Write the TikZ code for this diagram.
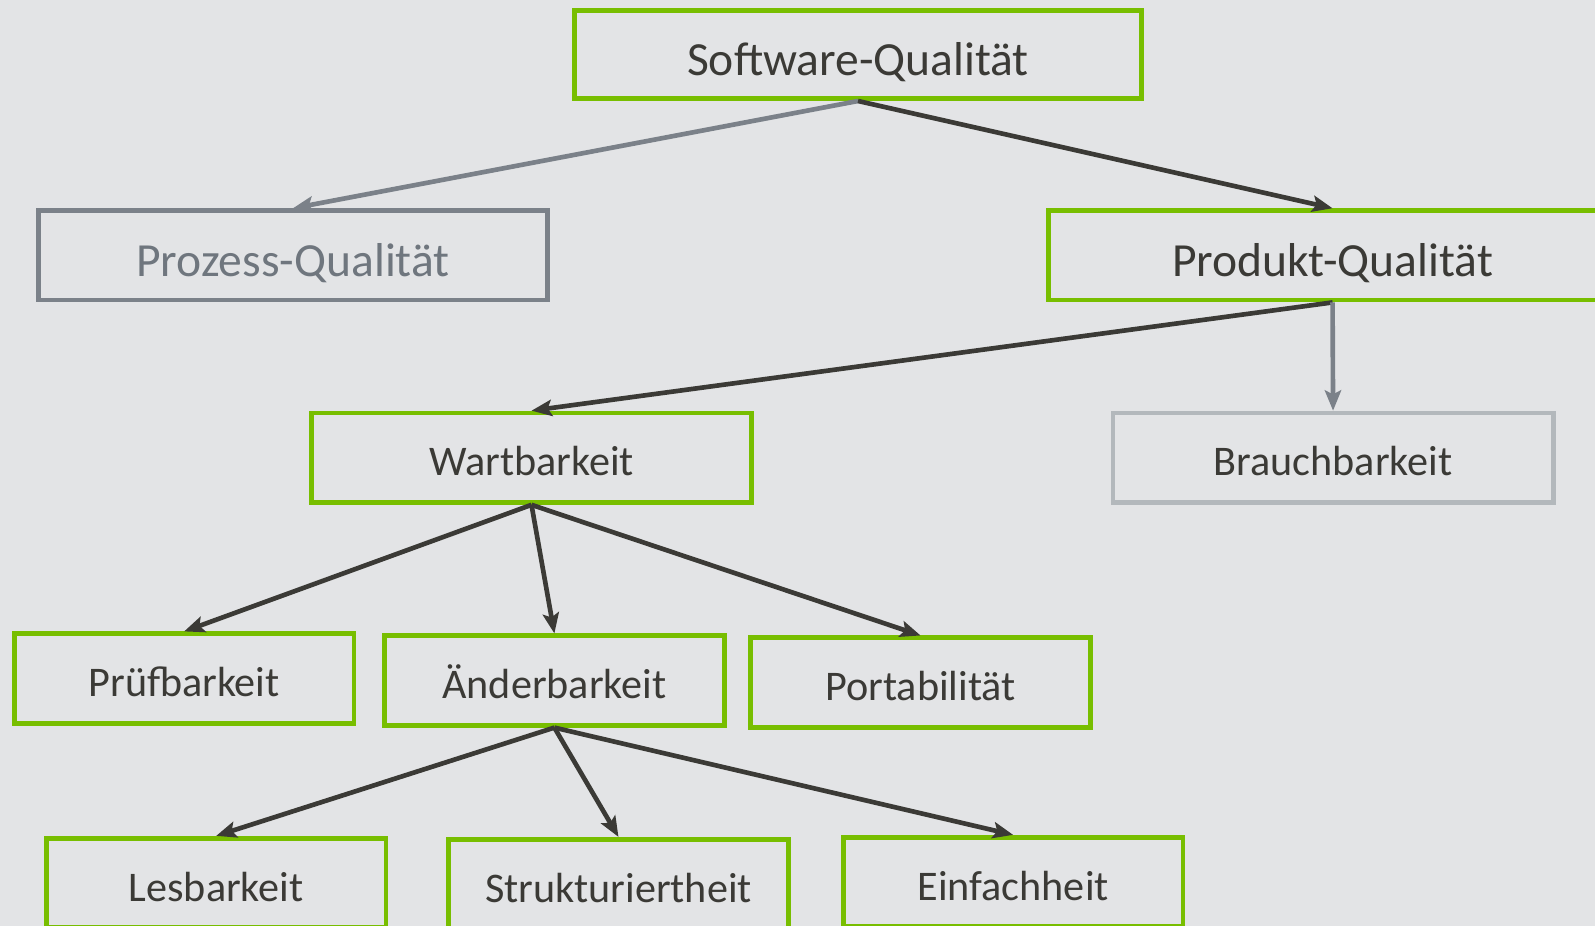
\documentclass[tikz,border=0pt]{standalone}
\usepackage{fontspec}
\setmainfont{Carlito}
\usepackage{tikz}
\usetikzlibrary{arrows.meta}
\definecolor{bgGrey}{HTML}{E3E4E6}
\definecolor{qGreen}{HTML}{78BE00}
\definecolor{darkLine}{HTML}{3B3A36}
\definecolor{greyLine}{HTML}{7B8189}
\definecolor{lightLine}{HTML}{B3B8BC}
\definecolor{greyText}{HTML}{6F767E}
\tikzstyle{box} = [draw=qGreen, line width=1.3pt, minimum width=33.4mm, minimum height=8.8mm, inner sep=0pt, text=darkLine, text height=10.2pt, text depth=0pt, font=\fontsize{11.8}{14}\selectfont]
\tikzstyle{bigbox} = [box, text height=11.8pt, font=\fontsize{13.3}{16}\selectfont]
\tikzstyle{link} = [line width=1.3pt, draw=darkLine, -{Stealth[length=2mm,width=1.6mm,inset=0.4mm]}]

\begin{document}
\begin{tikzpicture}[x=0.1mm,y=-0.1mm]
			\fill[bgGrey] (0,0) rectangle (1568,910);
			\clip (0,0) rectangle (1568,910);
			% top levels
			\node[bigbox, minimum width=55.7mm, minimum height=8.7mm] (soft) at (843.5,53.5) {Software-Qualität};
			\node[bigbox, draw=greyLine, text=greyText, minimum width=50mm] (prozess) at (288,251) {Prozess-Qualität};
			\node[bigbox, minimum width=55.8mm] (produkt) at (1310,251) {Produkt-Qualität};
			\node[box, minimum width=43.3mm] (wart) at (522.5,450) {Wartbarkeit};
			\node[box, draw=lightLine, minimum width=43.3mm] (brauch) at (1310.5,450) {Brauchbarkeit};
			% Wartbarkeit
			\node[box] (pruef) at (181,667) {Prüfbarkeit};
			\node[box] (aender) at (545,669) {Änderbarkeit};
			\node[box] (porta) at (905,671) {Portabilität};
			% Änderbarkeit
			\node[box] (les) at (212.5,868) {Lesbarkeit};
			\node[box] (struk) at (608,869) {Strukturiertheit};
			\node[box] (einf) at (996,867) {Einfachheit};
			\draw[link, draw=greyLine] (soft.south) -- (prozess.north);
			\draw[link] (soft.south) -- (produkt.north);
			\draw[link] (produkt.south) -- (wart.north);
			\draw[link, draw=greyLine] (produkt.south) -- (brauch.north);
			\draw[link] (wart.south) -- (pruef.north);
			\draw[link] (wart.south) -- (aender.north);
			\draw[link] (wart.south) -- (porta.north);
			\draw[link] (aender.south) -- (les.north);
			\draw[link] (aender.south) -- (struk.north);
			\draw[link] (aender.south) -- (einf.north);
		\end{tikzpicture}
\end{document}
